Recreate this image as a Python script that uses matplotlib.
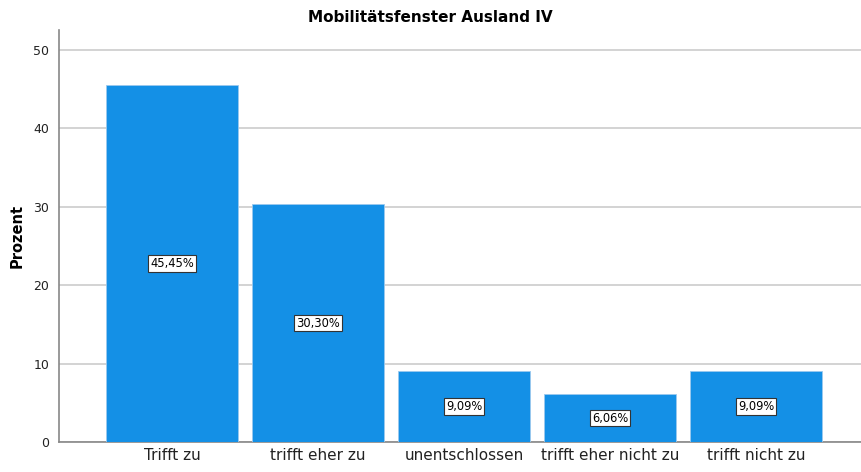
import matplotlib.pyplot as plt

# Daten
kategorien = ["Trifft zu", "trifft eher zu", "unentschlossen", "trifft eher nicht zu", "trifft nicht zu"]
prozent = [45.45, 30.30, 9.09, 6.06, 9.09]
labels = ["45,45%", "30,30%", "9,09%", "6,06%", "9,09%"]

fig = plt.figure(figsize=(8.61, 4.72), dpi=100)
ax = fig.add_axes([0.0685, 0.0636, 0.9315, 0.8728])

x = range(len(kategorien))
bars = ax.bar(x, prozent, width=0.904, color="#1490E6", edgecolor="#9cc9ee", linewidth=0.6, zorder=3)

for b, lab in zip(bars, labels):
    ax.text(b.get_x() + b.get_width() / 2, b.get_height() / 2, lab,
            ha="center", va="center", fontsize=8.3, color="black", zorder=4,
            bbox=dict(boxstyle="square,pad=0.15", fc="white", ec="#333333", lw=0.8))

ax.set_xlim(-0.774, 4.719)
ax.set_ylim(0, 52.5)
ax.set_yticks([0, 10, 20, 30, 40, 50])
ax.set_xticks(list(x))
ax.set_xticklabels(kategorien, fontsize=11, color="#222222")
ax.tick_params(axis="y", labelsize=9, length=0, pad=7, colors="#222222")
ax.tick_params(axis="x", length=0, pad=4)
ax.yaxis.grid(True, color="#cccccc", linewidth=1.2, zorder=0)

for s in ["top", "right"]:
    ax.spines[s].set_visible(False)
ax.spines["left"].set_color("#888888")
ax.spines["bottom"].set_color("#888888")
ax.spines["left"].set_linewidth(1.2)
ax.spines["bottom"].set_linewidth(1.2)

ax.set_ylabel("Prozent", fontsize=10.5, fontweight="bold")
ax.yaxis.set_label_coords(-0.043, 0.5)
fig.text(0.5, 0.963, "Mobilitätsfenster Ausland IV", ha="center", va="center",
         fontsize=11, fontweight="bold")

plt.savefig("out.png", dpi=100)
plt.close()
